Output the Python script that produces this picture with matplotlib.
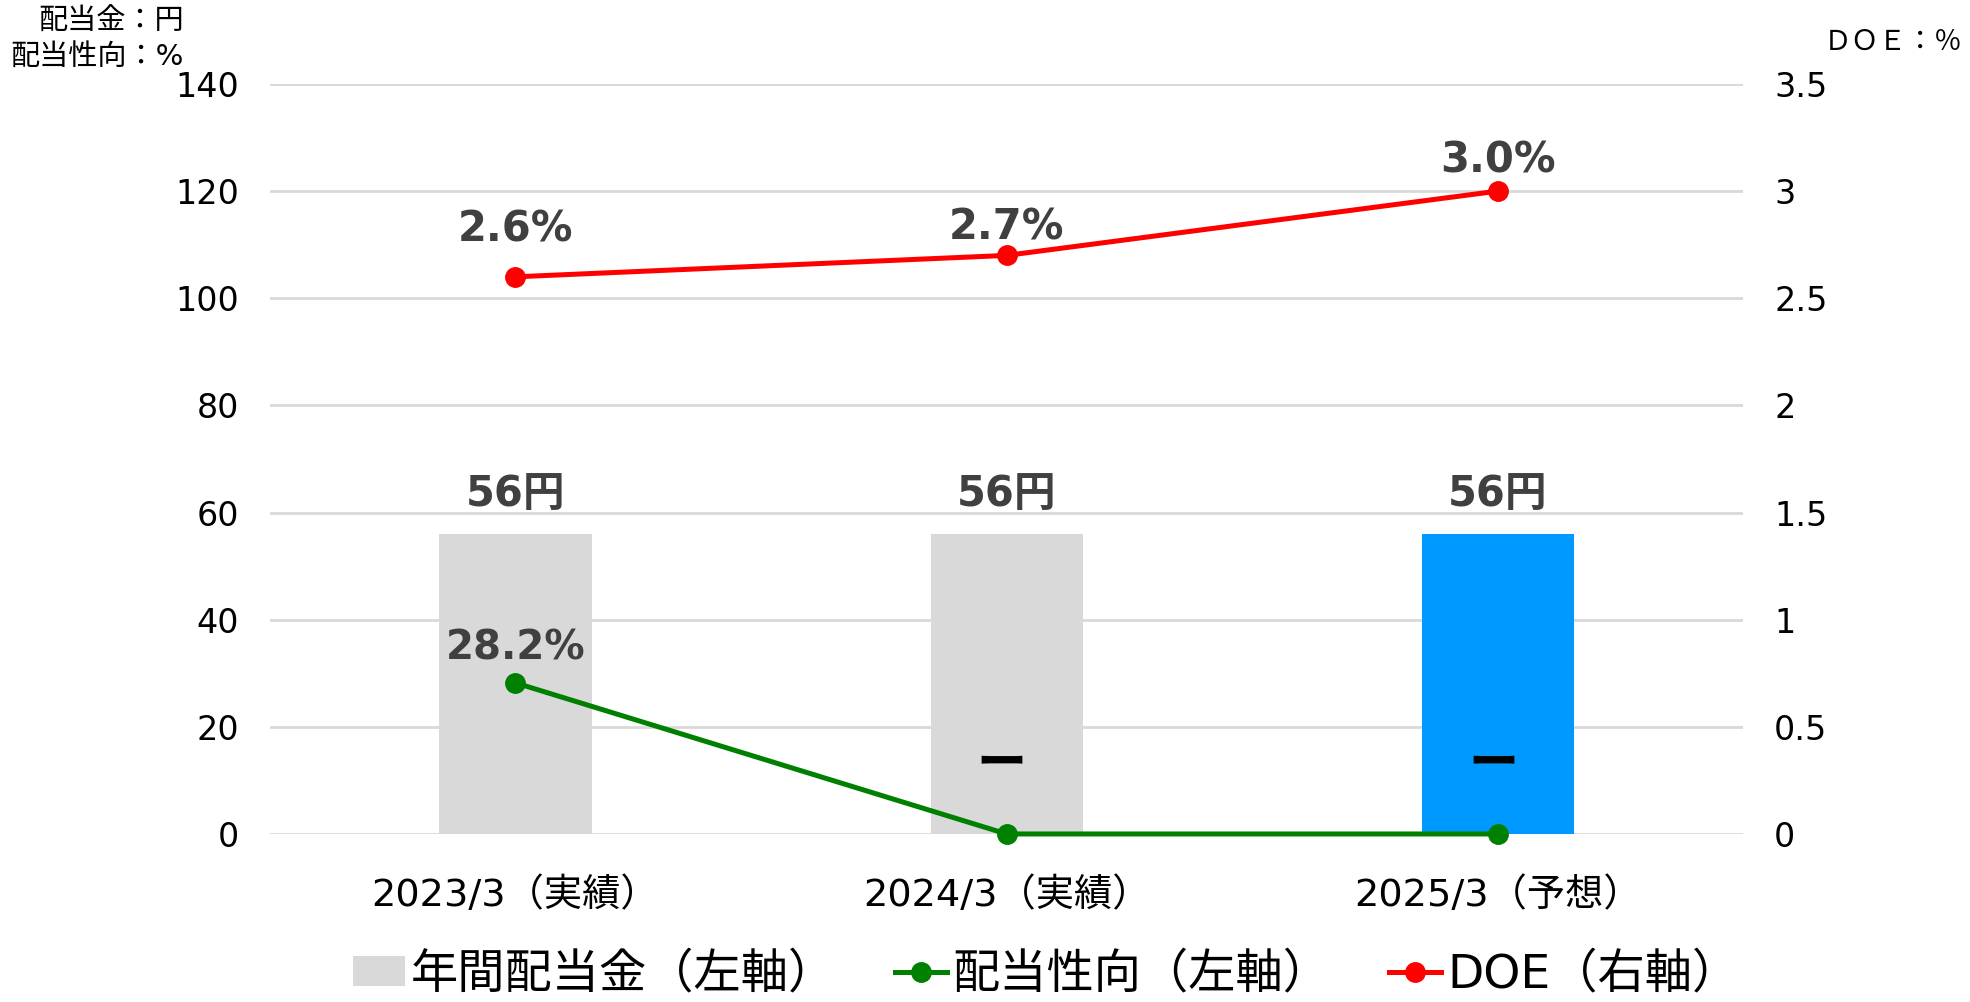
import matplotlib
matplotlib.use("Agg")
import matplotlib.pyplot as plt
from matplotlib.lines import Line2D
from matplotlib.patches import Patch

# ---- data ----
CATEGORIES = ["2023/3（実績）", "2024/3（実績）", "2025/3（予想）"]
DIVIDEND = [56, 56, 56]                 # 年間配当金 (円, left axis)
PAYOUT = [28.2, 0, 0]                   # 配当性向 (%, left axis)
PAYOUT_LABELS = ["28.2%", "ー", "ー"]
DOE = [2.6, 2.7, 3.0]                   # DOE (%, right axis)
LEFT_TICKS = [0, 20, 40, 60, 80, 100, 120, 140]
RIGHT_TICKS = [0, 0.5, 1, 1.5, 2, 2.5, 3, 3.5]
RIGHT_TICKLABELS = ["0", "0.5", "1", "1.5", "2", "2.5", "3", "3.5"]

BAR_COLORS = ["#d9d9d9", "#d9d9d9", "#0099ff"]
GREEN = "#008000"
RED = "#ff0000"
LABEL_COLOR = "#404040"
GRID = "#d9d9d9"

JP = ["DejaVu Sans", "Noto Sans CJK JP"]

fig = plt.figure(figsize=(19.7, 10.02), dpi=100)
ax = fig.add_axes([0.137, 0.1677, 0.748, 0.7485])
ax2 = ax.twinx()

x = list(range(len(CATEGORIES)))

ax.bar(x, DIVIDEND, width=0.31, color=BAR_COLORS, zorder=2)
ax.set_ylim(0, 140)
ax.set_xlim(-0.5, 2.5)
ax.set_yticks(LEFT_TICKS)
ax.yaxis.grid(True, color=GRID, linewidth=2, zorder=0)
ax.set_axisbelow(True)
ax.tick_params(axis="y", length=0, pad=22, labelsize=24)
ax.tick_params(axis="x", length=0, pad=31)
ax.set_xticks(x)
ax.set_xticklabels(CATEGORIES, fontsize=27.5, family=JP)

ax.plot(x, PAYOUT, "o-", color=GREEN, linewidth=3.6, markersize=14,
        zorder=4, clip_on=False)

ax2.plot(x, DOE, "o-", color=RED, linewidth=3.6, markersize=14, zorder=4)
ax2.set_ylim(0, 3.5)
ax2.set_yticks(RIGHT_TICKS)
ax2.set_yticklabels(RIGHT_TICKLABELS)
ax2.tick_params(axis="y", length=0, pad=22, labelsize=24)

for a in (ax, ax2):
    for s in a.spines.values():
        s.set_visible(False)

# bar labels
for xi, v in zip(x, DIVIDEND):
    ax.annotate(f"{v}円", (xi, v), textcoords="offset points", xytext=(0, 14),
                ha="center", va="bottom", fontsize=30, fontweight="bold",
                color=LABEL_COLOR, family=JP)

# payout labels
for xi, v, lab in zip(x, PAYOUT, PAYOUT_LABELS):
    if lab == "ー":
        ax.text(xi - 0.01, 13.0, lab, ha="center", va="center", fontsize=36,
                fontweight="bold", color="black", family=["Noto Sans CJK JP"])
    else:
        ax.annotate(lab, (xi, v), textcoords="offset points", xytext=(0, 25),
                    ha="center", va="center", fontsize=29, fontweight="bold",
                    color=LABEL_COLOR, family=JP)

# DOE labels
doe_offsets = [34, 20, 22]
for xi, v, off in zip(x, DOE, doe_offsets):
    ax2.annotate(f"{v:.1f}%", (xi, v), textcoords="offset points", xytext=(0, off),
                 ha="center", va="center", fontsize=30, fontweight="bold",
                 color=LABEL_COLOR, family=JP)

# axis unit notes
fig.text(38 / 1970, 1 - 22 / 1002, "配当金：円", ha="left", va="center",
         fontsize=21, family=JP)
fig.text(10 / 1970, 1 - 57 / 1002, "配当性向：%", ha="left", va="center",
         fontsize=21, family=JP)
fig.text(1962 / 1970, 1 - 42 / 1002, "ＤＯＥ：％", ha="right", va="center",
         fontsize=20, family=JP)

handles = [
    Patch(facecolor=BAR_COLORS[0], edgecolor="none"),
    Line2D([], [], color=GREEN, linewidth=3.6, marker="o", markersize=14),
    Line2D([], [], color=RED, linewidth=3.6, marker="o", markersize=14),
]
labels = ["年間配当金（左軸）", "配当性向（左軸）", "DOE（右軸）"]
fig.legend(handles, labels, loc="center", bbox_to_anchor=(1046 / 1970, 0.027),
           ncol=3, frameon=False, prop={"family": JP, "size": 34},
           handlelength=1.1, handleheight=0.6, handletextpad=0.12,
           columnspacing=1.25, borderaxespad=0, borderpad=0)

fig.savefig("out.png", dpi=100)
